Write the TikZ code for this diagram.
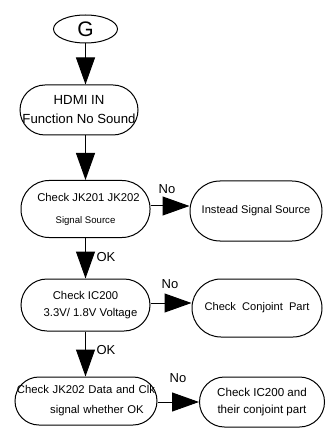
\documentclass[tikz,border=0pt]{standalone}
\usepackage{fontspec}
\setmainfont{Liberation Sans}
\usetikzlibrary{shapes.geometric,arrows.meta}
\tikzstyle{stadium}=[draw, line width=1pt, align=center, inner sep=0pt]
\tikzstyle{flow}=[line width=1pt, -{Triangle[length=27pt,width=19pt]}]
\tikzstyle{tag}=[inner sep=0pt, font=\fontsize{13}{15}\selectfont]

\begin{document}
\begin{tikzpicture}[x=1pt, y=-1pt]
\useasboundingbox (0,0) rectangle (328,435);
% Start
    \node[ellipse, draw, line width=1pt, minimum width=64pt, minimum height=28pt, inner sep=0pt,
          font=\fontsize{21}{21}\selectfont] (g) at (85.5,29) {G};
    \node[stadium, minimum width=118pt, minimum height=50pt, rounded corners=25pt,
          font=\fontsize{13.2}{19}\selectfont] (hdmi) at (79,110) {HDMI IN\\Function No Sound};
% Checks
    \node[stadium, minimum width=129pt, minimum height=57pt, rounded corners=28pt,
          font=\fontsize{11.3}{22}\selectfont] (jack) at (85.5,209)
          {\hspace*{6pt}Check JK201 JK202\\{\fontsize{9.6}{11}\selectfont Signal Source}};
    \node[stadium, minimum width=129pt, minimum height=52pt, rounded corners=26pt,
          font=\fontsize{11.3}{17}\selectfont] (ic) at (85.5,305)
          {Check IC200\\\hspace*{10pt}3.3V/ 1.8V Voltage};
    \node[stadium, minimum width=142pt, minimum height=48pt, rounded corners=24pt, text width=142pt,
          font=\fontsize{11.3}{20}\selectfont] (data) at (86,401)
          {Check JK202 Data and Clk\\\hspace*{22pt}signal whether OK};
% Fixes
    \node[stadium, minimum width=132pt, minimum height=60pt, rounded corners=30pt,
          font=\fontsize{11.1}{13}\selectfont] (src) at (256,211) {Instead Signal Source};
    \node[stadium, minimum width=130pt, minimum height=58pt, rounded corners=29pt,
          font=\fontsize{11.1}{13}\selectfont] (part) at (257,308) {Check\ \ Conjoint\ \ Part};
    \node[stadium, minimum width=125pt, minimum height=50pt, rounded corners=25pt,
          font=\fontsize{11.6}{17}\selectfont] (icpart) at (262,402) {Check IC200 and\\their conjoint part};
% Arrows
    \draw[flow] (g) -- (g |- hdmi.north);
    \draw[flow] (g |- hdmi.south) -- (g |- jack.north);
    \draw[flow] (jack) -- (jack |- ic.north);
    \draw[flow] (ic) -- (ic |- data.north);
    \draw[flow] (jack.east |- 0,206) -- (src.west |- 0,206);
    \draw[flow] (ic.east |- 0,303) -- (part.west |- 0,303);
    \draw[flow] (data.east |- 0,402) -- (icpart.west |- 0,402);
% Labels
    \node[tag] (no1) at (167,189) {No};
    \node[tag] (ok1) at (106,257) {OK};
    \node[tag] (no2) at (170,284) {No};
    \node[tag] (ok2) at (106,350) {OK};
    \node[tag] (no3) at (178,378) {No};
\end{tikzpicture}
\end{document}
